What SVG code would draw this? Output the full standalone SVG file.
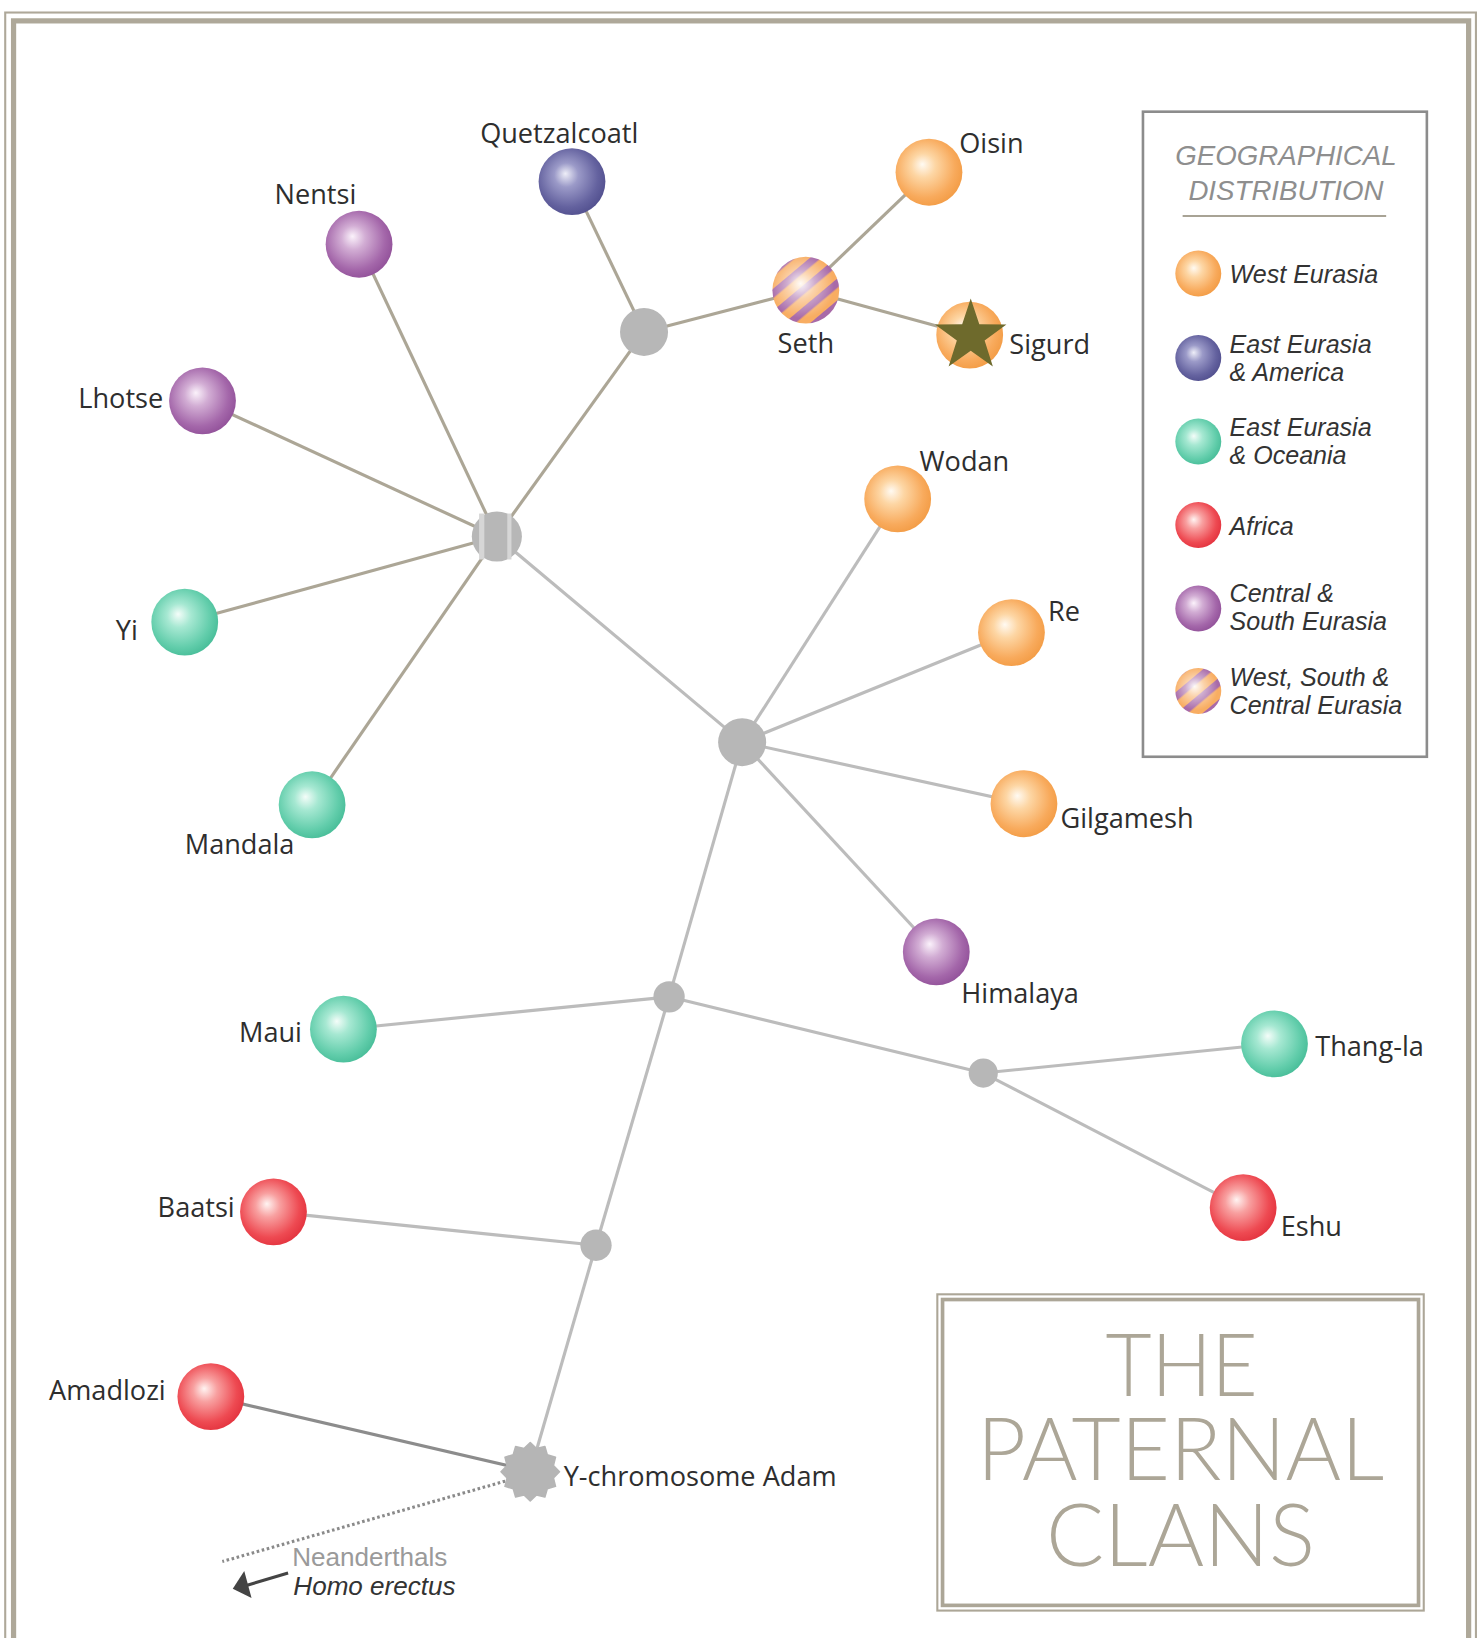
<svg xmlns="http://www.w3.org/2000/svg" width="1478" height="1638" viewBox="0 0 1478 1638">
<defs>
<radialGradient id="gOr" cx="0.45" cy="0.45" r="0.6" fx="0.4" fy="0.38">
<stop offset="0" stop-color="#fffaf2"/><stop offset="0.3" stop-color="#fdd6a4"/><stop offset="0.75" stop-color="#f8aa5c"/><stop offset="1" stop-color="#f29a42"/></radialGradient>
<radialGradient id="gBl" cx="0.45" cy="0.45" r="0.6" fx="0.4" fy="0.38">
<stop offset="0" stop-color="#eeeef8"/><stop offset="0.3" stop-color="#9b9ac8"/><stop offset="0.75" stop-color="#64629f"/><stop offset="1" stop-color="#4f4d8c"/></radialGradient>
<radialGradient id="gTe" cx="0.45" cy="0.45" r="0.6" fx="0.4" fy="0.38">
<stop offset="0" stop-color="#f4fdf9"/><stop offset="0.3" stop-color="#a6e8d2"/><stop offset="0.75" stop-color="#62cdab"/><stop offset="1" stop-color="#44bb96"/></radialGradient>
<radialGradient id="gRe" cx="0.45" cy="0.45" r="0.6" fx="0.4" fy="0.38">
<stop offset="0" stop-color="#fff4f2"/><stop offset="0.3" stop-color="#f8a0a0"/><stop offset="0.75" stop-color="#ee4a52"/><stop offset="1" stop-color="#e2303c"/></radialGradient>
<radialGradient id="gPu" cx="0.45" cy="0.45" r="0.6" fx="0.4" fy="0.38">
<stop offset="0" stop-color="#fbf2fb"/><stop offset="0.3" stop-color="#d2add4"/><stop offset="0.75" stop-color="#a467aa"/><stop offset="1" stop-color="#8f4e97"/></radialGradient>
<radialGradient id="gHi" cx="0.45" cy="0.45" r="0.6" fx="0.42" fy="0.4">
<stop offset="0" stop-color="#ffffff" stop-opacity="0.95"/><stop offset="0.35" stop-color="#ffffff" stop-opacity="0.45"/><stop offset="0.8" stop-color="#ffffff" stop-opacity="0"/></radialGradient>
<pattern id="stripes" patternUnits="userSpaceOnUse" width="16" height="16" patternTransform="rotate(-40)">
<rect width="16" height="16" fill="#f8ad62"/><rect width="16" height="7" fill="#a86aa8"/></pattern>
<style>
.lbl{font-family:"Open Sans","DejaVu Sans",sans-serif;font-size:26px;fill:#2e2e2e}
.leg{font-family:"Liberation Sans",Arial,sans-serif;font-style:italic;font-size:24px;fill:#333}
.legt{font-family:"Liberation Sans",Arial,sans-serif;font-style:italic;font-size:26.5px;fill:#8e8e8e}
.og{font-family:"Liberation Sans",Arial,sans-serif;font-size:25px}
.ttl{font-family:Lato,"Open Sans",sans-serif;font-weight:300;font-size:84px;fill:#aca697}
.e1{stroke:#aca696;stroke-width:3;fill:none}
.e2{stroke:#bcbcbc;stroke-width:3;fill:none}
.jn{fill:#b7b7b7}
.frame{fill:none;stroke:#aea899}
</style>
</defs>
<rect width="1478" height="1638" fill="#ffffff"/>
<g transform="scale(1.0438)">
<g id="frame">
<rect class="frame" x="5" y="12" width="1409" height="1620" stroke-width="2"/>
<rect class="frame" x="13" y="20" width="1394" height="1620" stroke-width="5"/>
</g>
<g id="connectors">
<line class="e1" x1="548" y1="174" x2="617" y2="318"/>
<line class="e1" x1="617" y1="318" x2="772" y2="278"/>
<line class="e1" x1="772" y1="278" x2="890" y2="165"/>
<line class="e1" x1="772" y1="278" x2="929" y2="321"/>
<line class="e1" x1="617" y1="318" x2="476" y2="514"/>
<line class="e1" x1="476" y1="514" x2="344" y2="234"/>
<line class="e1" x1="476" y1="514" x2="194" y2="384"/>
<line class="e1" x1="476" y1="514" x2="177" y2="596"/>
<line class="e1" x1="476" y1="514" x2="299" y2="771"/>
<line class="e2" x1="476" y1="514" x2="711" y2="711"/>
<line class="e2" x1="711" y1="711" x2="860" y2="478"/>
<line class="e2" x1="711" y1="711" x2="969" y2="606"/>
<line class="e2" x1="711" y1="711" x2="981" y2="770"/>
<line class="e2" x1="711" y1="711" x2="897" y2="912"/>
<line class="e2" x1="711" y1="711" x2="641" y2="955"/>
<line class="e2" x1="641" y1="955" x2="329" y2="986"/>
<line class="e2" x1="641" y1="955" x2="942" y2="1028"/>
<line class="e2" x1="942" y1="1028" x2="1221" y2="1000"/>
<line class="e2" x1="942" y1="1028" x2="1191" y2="1157"/>
<line class="e2" x1="641" y1="955" x2="571" y2="1193"/>
<line class="e2" x1="571" y1="1193" x2="262" y2="1161"/>
<line class="e2" x1="571" y1="1193" x2="508" y2="1410"/>
<line x1="202" y1="1338" x2="490" y2="1405" stroke="#8c8c8c" stroke-width="3"/>
<line x1="484" y1="1419" x2="213" y2="1496" stroke="#8a8a8a" stroke-width="3" stroke-dasharray="2.5 2.5"/>
<line x1="276" y1="1507" x2="236" y2="1519" stroke="#444" stroke-width="3"/>
<polygon points="223,1522 234,1505 241,1531" fill="#444"/>
</g>
<g id="junctions">
<circle id="j1" class="jn" cx="617" cy="318" r="23"/>
<g id="j2"><circle class="jn" cx="476" cy="514" r="24"/><rect x="459" y="492" width="5" height="44" fill="#d6d6d6"/><rect x="486" y="492" width="4" height="44" fill="#d6d6d6"/></g>
<circle id="j3" class="jn" cx="711" cy="711" r="23"/>
<circle id="j4" class="jn" cx="641" cy="955" r="15"/>
<circle id="j5" class="jn" cx="942" cy="1028" r="14"/>
<circle id="j6" class="jn" cx="571" cy="1193" r="15"/>
</g>
<g id="n-quetzalcoatl"><circle cx="548" cy="174" r="32" fill="url(#gBl)"/><text class="lbl" x="460" y="137">Quetzalcoatl</text></g>
<g id="n-nentsi"><circle cx="344" cy="234" r="32" fill="url(#gPu)"/><text class="lbl" x="263" y="195">Nentsi</text></g>
<g id="n-lhotse"><circle cx="194" cy="384" r="32" fill="url(#gPu)"/><text class="lbl" x="75" y="391">Lhotse</text></g>
<g id="n-yi"><circle cx="177" cy="596" r="32" fill="url(#gTe)"/><text class="lbl" x="111" y="613">Yi</text></g>
<g id="n-mandala"><circle cx="299" cy="771" r="32" fill="url(#gTe)"/><text class="lbl" x="177" y="818">Mandala</text></g>
<g id="n-oisin"><circle cx="890" cy="165" r="32" fill="url(#gOr)"/><text class="lbl" x="919" y="147">Oisin</text></g>
<g id="n-seth"><circle cx="772" cy="278" r="32" fill="url(#stripes)"/><circle cx="772" cy="278" r="32" fill="url(#gHi)"/><text class="lbl" x="745" y="338">Seth</text></g>
<g id="n-sigurd"><circle cx="929" cy="321" r="32" fill="url(#gOr)"/><path d="M930,286 L938.2,310.7 L964.2,310.9 L943.3,326.3 L951.2,351.1 L930,336 L908.8,351.1 L916.7,326.3 L895.8,310.9 L921.8,310.7 Z" fill="#6e6a2c"/><text class="lbl" x="967" y="339">Sigurd</text></g>
<g id="n-wodan"><circle cx="860" cy="478" r="32" fill="url(#gOr)"/><text class="lbl" x="881" y="451">Wodan</text></g>
<g id="n-re"><circle cx="969" cy="606" r="32" fill="url(#gOr)"/><text class="lbl" x="1004" y="595">Re</text></g>
<g id="n-gilgamesh"><circle cx="981" cy="770" r="32" fill="url(#gOr)"/><text class="lbl" x="1016" y="793">Gilgamesh</text></g>
<g id="n-himalaya"><circle cx="897" cy="912" r="32" fill="url(#gPu)"/><text class="lbl" x="921" y="961">Himalaya</text></g>
<g id="n-maui"><circle cx="329" cy="986" r="32" fill="url(#gTe)"/><text class="lbl" x="229" y="998">Maui</text></g>
<g id="n-thangla"><circle cx="1221" cy="1000" r="32" fill="url(#gTe)"/><text class="lbl" x="1260" y="1012">Thang-la</text></g>
<g id="n-baatsi"><circle cx="262" cy="1161" r="32" fill="url(#gRe)"/><text class="lbl" x="151" y="1166">Baatsi</text></g>
<g id="n-eshu"><circle cx="1191" cy="1157" r="32" fill="url(#gRe)"/><text class="lbl" x="1227" y="1184">Eshu</text></g>
<g id="n-amadlozi"><circle cx="202" cy="1338" r="32" fill="url(#gRe)"/><text class="lbl" x="47" y="1341">Amadlozi</text></g>
<g id="n-adam"><polygon points="536,1410 530.2,1416 532.2,1424 524.3,1426.3 522,1434.2 514,1432.2 508,1438 502,1432.2 494,1434.2 491.7,1426.3 483.8,1424 485.8,1416 480,1410 485.8,1404 483.8,1396 491.7,1393.7 494,1385.8 502,1387.8 508,1382 514,1387.8 522,1385.8 524.3,1393.7 532.2,1396 530.2,1404" fill="#b5b5b5" stroke="#b5b5b5" stroke-width="1.5" stroke-linejoin="round"/><text class="lbl" x="540" y="1424">Y-chromosome Adam</text></g>
<g id="n-outgroup">
<text class="og" x="280" y="1500" fill="#9a9a9a">Neanderthals</text>
<text class="og" x="281" y="1528" font-style="italic" fill="#333">Homo erectus</text>
</g>
<g id="legend">
<rect x="1095" y="107" width="272" height="618" fill="none" stroke="#8c8c8c" stroke-width="2.5"/>
<text class="legt" text-anchor="middle"><tspan x="1232" y="158">GEOGRAPHICAL</tspan><tspan x="1232" y="192">DISTRIBUTION</tspan></text>
<line x1="1133" y1="207" x2="1328" y2="207" stroke="#a8a395" stroke-width="2"/>
<circle cx="1148" cy="262" r="22" fill="url(#gOr)"/><text class="leg" x="1178" y="271">West Eurasia</text>
<circle cx="1148" cy="343" r="22" fill="url(#gBl)"/><text class="leg"><tspan x="1178" y="338">East Eurasia</tspan><tspan x="1178" y="365">&amp; America</tspan></text>
<circle cx="1148" cy="423" r="22" fill="url(#gTe)"/><text class="leg"><tspan x="1178" y="418">East Eurasia</tspan><tspan x="1178" y="445">&amp; Oceania</tspan></text>
<circle cx="1148" cy="503" r="22" fill="url(#gRe)"/><text class="leg" x="1178" y="513">Africa</text>
<circle cx="1148" cy="583" r="22" fill="url(#gPu)"/><text class="leg"><tspan x="1178" y="577">Central &amp;</tspan><tspan x="1178" y="604">South Eurasia</tspan></text>
<circle cx="1148" cy="662" r="22" fill="url(#stripes)"/><circle cx="1148" cy="662" r="22" fill="url(#gHi)"/><text class="leg"><tspan x="1178" y="657">West, South &amp;</tspan><tspan x="1178" y="684">Central Eurasia</tspan></text>
</g>
<g id="title">
<rect x="898" y="1240" width="466" height="303" fill="none" stroke="#aca697" stroke-width="2"/>
<rect x="903" y="1245" width="456" height="293" fill="none" stroke="#aca697" stroke-width="3.5"/>
<text class="ttl" x="1132" y="1337" text-anchor="middle" textLength="146" lengthAdjust="spacingAndGlyphs">THE</text>
<text class="ttl" x="1131" y="1418" text-anchor="middle" textLength="390" lengthAdjust="spacingAndGlyphs">PATERNAL</text>
<text class="ttl" x="1131" y="1500" text-anchor="middle" textLength="258" lengthAdjust="spacingAndGlyphs">CLANS</text>
</g>
</g>
</svg>
